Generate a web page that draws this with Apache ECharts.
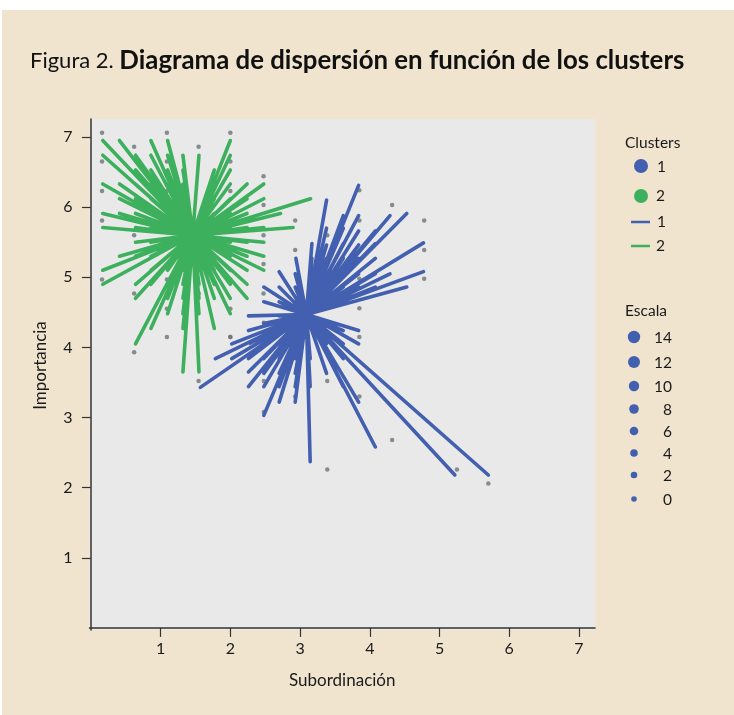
<!DOCTYPE html>
<html><head><meta charset="utf-8">
<script src="https://cdn.jsdelivr.net/npm/echarts@6/dist/echarts.min.js"></script>
<style>
html,body{margin:0;padding:0;background:#fff}
#bg{position:absolute;left:2px;top:10px;width:732px;height:705px;background:#f0e4ce}
#c{position:absolute;left:0;top:0;width:734px;height:715px}
</style></head><body><div id="bg"></div><div id="c"></div>
<script>
const titlePrefix = 'Figura 2.';
const titleBold = 'Diagrama de dispersión en función de los clusters';
const xName = 'Subordinación';
const yName = 'Importancia';
const tickValues = [1,2,3,4,5,6,7];
const clusterNames = ['1','2'];
const scaleLabels = ['14','12','10','8','6','4','2','0'];
const greenCenter = [1.46,5.6];
const blueCenter = [3.09,4.47];
const greenEnds = [[0.17,6.95],[0.17,6.74],[0.41,6.95],[0.86,6.95],[1.10,6.95],[1.10,6.74],[1.55,6.74],[2.0,6.95],[2.0,6.74],[1.77,6.33],
[0.17,6.33],[0.41,6.33],[0.64,6.12],[0.64,6.53],[0.86,6.53],[1.32,6.33],[2.0,6.53],[2.0,6.33],[2.24,6.12],[2.48,6.33],[2.48,6.12],[2.72,5.91],[3.15,6.12],[2.24,5.91],
[0.17,5.91],[0.41,5.91],[0.17,5.71],[0.64,5.91],[2.9,5.71],[2.48,5.71],[0.64,5.5],[2.48,5.5],[2.48,5.3],[2.48,5.1],[0.17,5.1],[0.17,4.9],[0.64,4.9],[0.64,4.7],[0.86,4.9],
[2.24,4.9],[2.24,4.7],[2.0,4.48],[2.0,4.9],[1.77,4.27],[0.86,4.27],[0.64,4.05],[1.32,3.65],[1.55,3.65],[1.10,4.7],[1.32,4.7],[1.55,4.7],[1.77,4.9],[2.0,4.7],[1.10,4.48],
[0.41,5.3],[0.86,5.3],[2.24,5.3],[1.10,6.33],[0.86,6.12],[1.32,6.12],[1.77,6.12],
[0.64,6.74],[0.86,6.74],[1.10,6.53],[1.32,6.53],[1.32,6.74],[0.64,6.33],[0.86,6.33],[0.41,6.12],[0.64,5.71],[0.86,5.91],[0.86,5.71],[1.10,5.91],[1.10,6.12],[1.77,5.91],[2.0,5.91],[2.0,6.12],[2.24,5.5],[2.0,5.5],[2.0,5.3],[2.24,5.1],[2.0,5.1],[1.77,5.1],[1.77,4.7],[1.55,4.48],[1.32,4.48],[1.10,5.1],[0.86,5.1],[0.64,5.3],[0.86,5.5],[1.10,5.3],[1.32,5.1],[1.55,5.1],[1.32,4.27],[1.77,6.53],[1.77,6.33],[2.24,6.33],[2.24,5.71],[2.0,5.71],[1.77,5.3],[1.77,5.5],[1.10,5.5],[1.32,4.9],[1.55,4.9],[1.10,4.9]];
const blueEnds = [[3.38,6.10],[3.84,6.31],[3.84,5.88],[3.62,5.88],[4.53,5.91],[4.29,5.88],[4.77,5.49],[4.77,5.08],[4.53,4.86],[3.84,5.46],[3.84,5.05],[3.62,5.48],[3.38,5.46],[3.17,5.27],[2.94,5.27],[2.70,5.08],[2.93,5.05],
[2.70,4.86],[2.48,4.86],[2.48,4.65],[2.26,4.45],[2.48,4.34],[2.26,4.24],[3.84,4.24],[3.84,4.05],[2.02,4.05],[1.785,3.84],[1.57,3.43],[2.02,3.84],[2.26,3.65],[2.26,3.44],[2.48,3.63],[2.48,3.44],[2.48,3.03],[2.70,3.44],[2.93,3.44],[3.145,3.44],[3.145,2.37],[4.08,2.58],[3.84,3.22],[3.62,3.44],[5.22,2.18],[5.70,2.18],
[2.70,3.22],[2.93,3.22],[3.38,5.05],[3.62,5.05],[3.38,5.7],[3.62,5.3],[3.17,5.05],[2.26,3.84],[3.38,3.63],[3.62,3.84],[4.08,5.27],[4.29,5.05],
[3.62,5.7],[3.62,5.27],[3.84,5.27],[3.84,5.66],[4.08,5.66],[4.08,5.48],[4.08,5.05],[3.38,5.27],[3.17,5.48],[3.17,4.86],[3.38,4.86],[3.62,4.86],[3.84,4.86],[4.08,4.86],[2.70,4.65],[2.70,4.45],[2.70,4.24],[2.48,4.05],[2.70,4.05],[2.48,3.84],[2.70,3.84],[2.93,3.84],[2.93,3.63],[3.145,3.84],[3.38,4.05],[3.62,4.05],[3.38,4.24],[3.62,4.24],[3.38,4.65],[2.93,4.86],[2.93,4.65],[2.70,3.63],[2.26,4.05]];
const greenDots = [[0.16,7.06],[1.09,7.06],[2.0,7.06],[0.62,6.86],[1.545,6.86],[0.16,6.65],[1.09,6.65],[2.0,6.65],[2.476,6.44],[0.16,6.23],[1.09,6.23],[2.0,6.23],[2.476,6.03],[0.16,5.81],[0.62,6.03],[2.93,5.81],[0.62,5.6],[2.476,5.6],[0.16,4.97],[1.09,4.97],[2.476,5.19],[2.0,4.97],[0.62,4.77],[1.545,4.77],[1.09,4.77],[2.476,4.77],[2.0,4.55],[1.09,4.55],[0.62,3.93],[1.09,4.15],[2.0,4.15],[1.545,3.52]];
const blueDots = [[4.32,6.03],[4.78,5.81],[3.39,5.6],[2.93,5.39],[4.78,5.39],[3.85,5.81],[3.85,6.24],[3.85,4.98],[4.78,4.98],[3.85,4.56],[3.85,4.15],[2.0,4.15],[2.48,4.35],[3.85,3.30],[3.39,3.52],[2.93,3.30],[4.32,2.68],[3.39,2.26],[5.25,2.26],[5.70,2.06],[2.48,3.08],[2.48,3.52]];
const greenColor = '#3cb05c';
const blueColor = '#4360b0';
const dotColor = '#6c7478';
const axisColor = '#333333';
const font = 'Lato';

const spokes = (c, ends) => ends.flatMap(e => [c, e]);
const lineSeries = (name, c, ends, color) => ({
  name, type:'line', data: spokes(c, ends), showSymbol:false, symbol:'none', silent:true, animation:false,
  lineStyle:{color, width:3.6, join:'round', cap:'butt'}, z:3
});
const dotSeries = (name, data) => ({
  name, type:'scatter', data, symbolSize:4.5, itemStyle:{color:dotColor}, silent:true, animation:false, z:2
});
const txt = (x, y, s, align='left', size=15.5) => ({type:'text', x, y, style:{text:s, fill:'#1a1a1a', font:`${size}px ${font}`, textAlign:align, textVerticalAlign:'middle'}});
const dot = (x, y, r, fill) => ({type:'circle', shape:{cx:x, cy:y, r}, style:{fill}});
const dash = (x0, x1, y, stroke) => ({type:'line', shape:{x1:x0, y1:y, x2:x1, y2:y}, style:{stroke, lineWidth:2.5}});

const scaleYs = [337,362,386,409,431,453,475,499];
const scaleR = [6.2,6,5.2,4.8,4.3,3.8,3.3,2.8];
const legendEls = [
  txt(625,143,'Clusters'),
  dot(641,166,7,blueColor), txt(657,167,clusterNames[0]),
  dot(641,196,7,greenColor), txt(656,196,clusterNames[1]),
  dash(631,650,222,blueColor), txt(657,222,clusterNames[0]),
  dash(631,650,246,greenColor), txt(656,246,clusterNames[1]),
  txt(625,311,'Escala'),
  ...scaleLabels.flatMap((s,i)=>[dot(634,scaleYs[i],scaleR[i],blueColor), txt(672,scaleYs[i]+1,s,'right')])
];

const chart = echarts.init(document.getElementById('c'), null, {renderer:'canvas'});
chart.setOption({
  backgroundColor:'transparent',
  animation:false,
  title:{left:25, top:43, text:`{a|${titlePrefix} }{b|${titleBold}}`, textStyle:{rich:{
    a:{fontFamily:font, fontSize:22, fontWeight:400, color:'#111'},
    b:{fontFamily:font, fontSize:25.8, fontWeight:700, color:'#111'}}}},
  grid:{left:89.5, right:139, top:119, bottom:85, show:true, backgroundColor:'#e9e9e9', borderWidth:0},
  xAxis:{type:'value', min:-0.02, max:7.23, name:xName, nameLocation:'middle', nameGap:42,
    nameTextStyle:{fontFamily:font, fontSize:17, color:'#1a1a1a'},
    splitLine:{show:false},
    axisLine:{show:true, lineStyle:{color:axisColor, width:1.5}},
    axisTick:{show:true, length:9, inside:false, customValues:tickValues, lineStyle:{color:axisColor, width:1.2}},
    axisLabel:{customValues:tickValues, fontFamily:font, fontSize:16, color:'#1a1a1a', margin:11}},
  yAxis:{type:'value', min:-0.03, max:7.257, name:yName, nameLocation:'middle', nameGap:40,
    nameTextStyle:{fontFamily:font, fontSize:17, color:'#1a1a1a', padding:[0,0,0,18]},
    splitLine:{show:false},
    axisLine:{show:true, lineStyle:{color:axisColor, width:1.5}},
    axisTick:{show:true, length:9, customValues:tickValues, lineStyle:{color:axisColor, width:1.2}},
    axisLabel:{customValues:tickValues, fontFamily:font, fontSize:16, color:'#1a1a1a', margin:17}},
  series:[
    dotSeries('Puntos 2', greenDots), dotSeries('Puntos 1', blueDots),
    lineSeries('Cluster 2', greenCenter, greenEnds, greenColor),
    lineSeries('Cluster 1', blueCenter, blueEnds, blueColor)
  ],
  graphic:legendEls
});
</script></body></html>
